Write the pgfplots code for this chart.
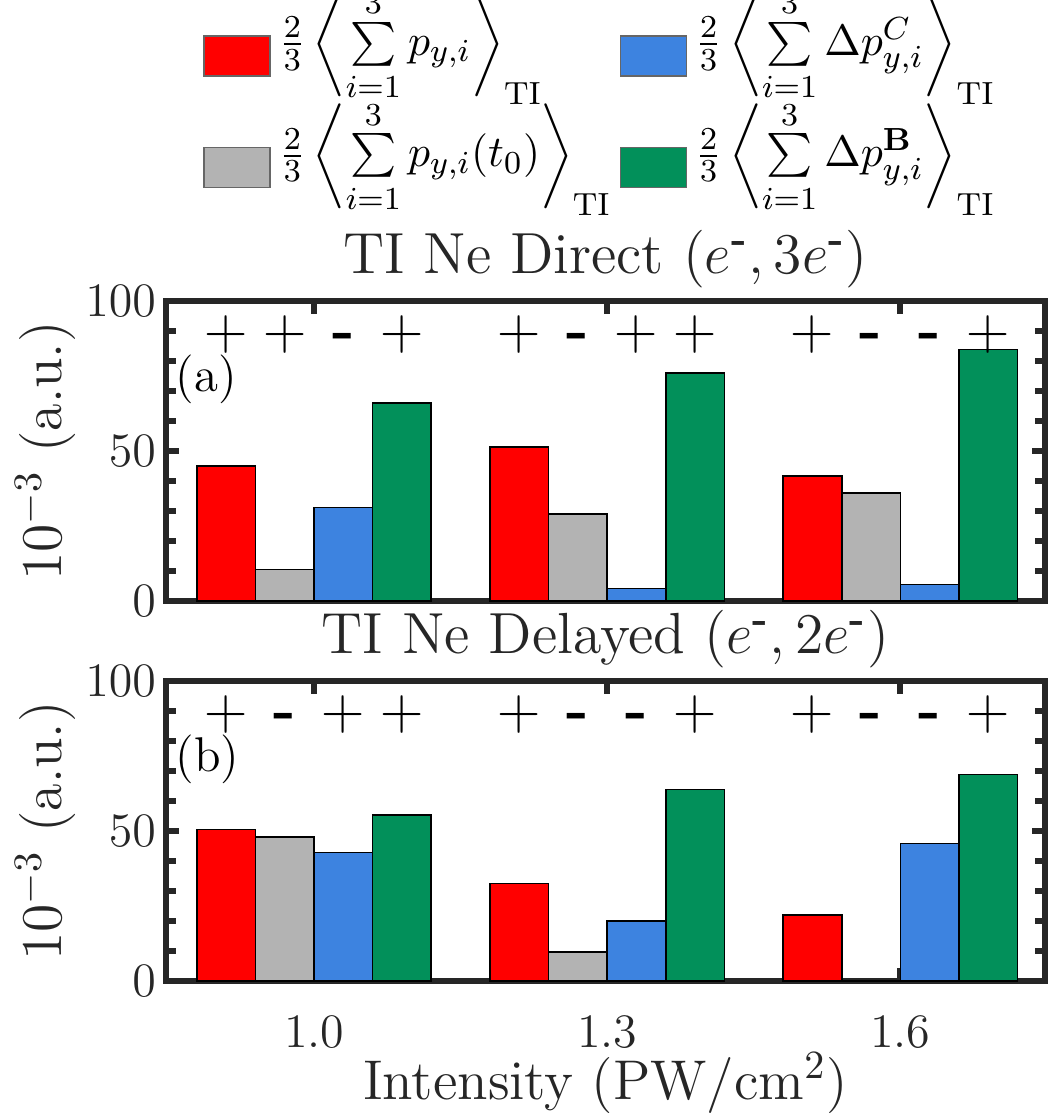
\documentclass[border=0pt]{standalone}
\usepackage{amsmath}
\usepackage{pgfplots}
\usepackage{pgfplotstable}
\pgfplotsset{compat=1.18}

\definecolor{cRed}{RGB}{255,0,0}
\definecolor{cGray}{RGB}{179,179,179}
\definecolor{cBlue}{RGB}{61,131,224}
\definecolor{cGreen}{RGB}{2,144,90}
\definecolor{axgray}{RGB}{38,38,38}

% bar heights (10^-3 a.u.) per intensity (PW/cm^2)
\pgfplotstableread{
x   red  gray blue green
1.0 45.1 10.5 31.2 66.0
1.3 51.3 29.0 4.2  76.1
1.6 41.6 36.0 5.5  83.8
}\directdata
\pgfplotstableread{
x   red  gray blue green
1.0 50.5 48.0 42.9 55.3
1.3 32.5 9.7  20.1 63.8
1.6 22.0 0    45.8 68.8
}\delayeddata

% sign markers above each bar (bar centres)
\pgfplotstableread{
x    y
0.91 84
0.97 84
1.09 84
1.21 84
1.33 84
1.39 84
1.51 84
1.69 84
}\plusA
\pgfplotstableread{
x    y
1.03 84
1.27 84
1.57 84
1.63 84
}\minusA
\pgfplotstableread{
x    y
0.91 84
1.03 84
1.09 84
1.21 84
1.39 84
1.51 84
1.69 84
}\plusB
\pgfplotstableread{
x    y
0.97 84
1.27 84
1.33 84
1.57 84
1.63 84
}\minusB

\pgfplotsset{
  panel/.style={
    scale only axis, width=219.75pt, height=75pt,
    xmin=0.8485, xmax=1.748, ymin=0, ymax=100,
    xtick={1.0,1.3,1.6}, ytick={0,50,100}, minor y tick num=4,
    tick align=inside,
    axis line style={axgray, line width=1.5pt},
    major tick style={axgray, line width=1.5pt}, major tick length=3.2pt,
    minor tick style={axgray, line width=1.5pt}, minor tick length=2.4pt,
    tick label style={font=\fontsize{12}{14}\selectfont, text=axgray},
    yticklabel style={xshift=1pt},
    ylabel={$10^{-3}$ (a.u.)},
    every axis y label/.style={at={(axis description cs:-0.137,0.5)}, rotate=90,
      anchor=center, font=\fontsize{14}{16}\selectfont, text=axgray},
    title style={at={(axis description cs:0.5,1)}, anchor=base, yshift=1pt,
      font=\fontsize{14.5}{16}\selectfont, text=axgray},
  },
  bars/.style={ybar, bar width=14.65pt, bar shift=#1, draw=black, line width=0.4pt,
    legend image code/.code={\draw[##1, draw=black!60, line width=0.4pt] (0pt,-4.4pt) rectangle (16.5pt,5.6pt);}},
  signs/.style={draw=none, mark=none, forget plot, nodes near coords={#1},
    nodes near coords style={anchor=base, inner sep=0pt, text=black, font=\fontsize{15}{17}\selectfont}},
}

% legend formula (text style, limits above and below); smashed so the rows keep a fixed pitch
\newcommand{\avg}[1]{\smash{$\frac{2}{3}\left\langle\sum\limits_{\rule{0pt}{6.1pt}i=1}^{3} #1\right\rangle_{\mathrm{TI}}$}}

\begin{document}
\begin{tikzpicture}
\useasboundingbox (-41.5pt,-129pt) rectangle (220.75pt,150.25pt);

\begin{axis}[panel,
  xticklabels={},
  title={TI Ne Direct $(e^{\text{\textbf{-}}},3e^{\text{\textbf{-}}})$},
  legend columns=2,
  transpose legend,
  legend cell align=left,
  legend style={at={(axis description cs:0.5,1)}, anchor=south, xshift=-0.5pt, yshift=26pt,
    draw=none, fill=none, font=\fontsize{11}{13}\selectfont,
    /tikz/every even column/.append style={column sep=0pt},
    row sep=17.5pt},
]
\addplot[bars=-21.98pt, fill=cRed]   table[x=x, y=red]   {\directdata};
\addlegendentry{\avg{p_{y,i}}}
\addplot[bars=-7.33pt,  fill=cGray]  table[x=x, y=gray]  {\directdata};
\addlegendentry{\avg{p_{y,i}(t_0)}}
\addplot[bars=7.33pt,   fill=cBlue]  table[x=x, y=blue]  {\directdata};
\addlegendentry{\avg{\Delta p_{y,i}^{C}}}
\addplot[bars=21.98pt,  fill=cGreen] table[x=x, y=green] {\directdata};
\addlegendentry{\avg{\Delta p_{y,i}^{\mathbf{B}}}}
\addplot[signs={+}] table[x=x, y=y] {\plusA};
\addplot[signs={\textbf{-}}] table[x=x, y=y] {\minusA};
\node[anchor=base west, inner sep=0pt, font=\fontsize{12.2}{14}\selectfont]
  at (axis description cs:0.01,0.70) {(a)};
\end{axis}

\begin{axis}[panel, at={(0,-95pt)},
  xticklabels={1.0,1.3,1.6},
  xticklabel style={yshift=-5pt},
  xlabel={Intensity (PW/cm$^2$)},
  every axis x label/.style={at={(axis description cs:0.5,0)}, anchor=base,
    yshift=-29.5pt, font=\fontsize{14}{16}\selectfont, text=axgray},
  title={TI Ne Delayed $(e^{\text{\textbf{-}}},2e^{\text{\textbf{-}}})$},
]
\addplot[bars=-21.98pt, fill=cRed]   table[x=x, y=red]   {\delayeddata};
\addplot[bars=-7.33pt,  fill=cGray]  table[x=x, y=gray]  {\delayeddata};
\addplot[bars=7.33pt,   fill=cBlue]  table[x=x, y=blue]  {\delayeddata};
\addplot[bars=21.98pt,  fill=cGreen] table[x=x, y=green] {\delayeddata};
\addplot[signs={+}] table[x=x, y=y] {\plusB};
\addplot[signs={\textbf{-}}] table[x=x, y=y] {\minusB};
\node[anchor=base west, inner sep=0pt, font=\fontsize{12.2}{14}\selectfont]
  at (axis description cs:0.01,0.70) {(b)};
\end{axis}
\end{tikzpicture}
\end{document}
